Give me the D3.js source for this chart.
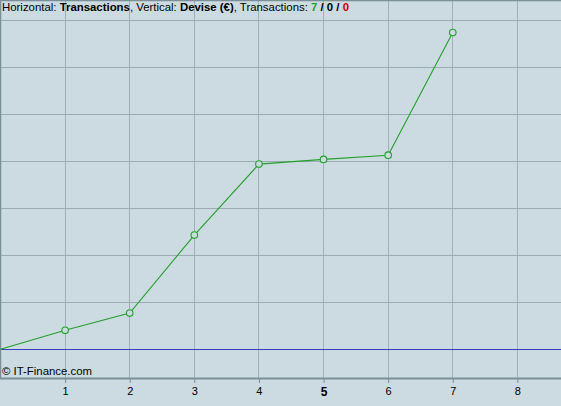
<!DOCTYPE html>
<html><head><meta charset="utf-8">
<script src="https://cdn.jsdelivr.net/npm/d3@7"></script>
<style>body{margin:0;background:#ccdbe1;}svg{display:block;}</style>
</head><body>
<svg id="c" width="561" height="406"></svg>
<script>
const transactions = [0, 1, 2, 3, 4, 5, 6, 7];
const devise = [0, 404, 770, 2430, 3940, 4040, 4130, 6740];
const xTicks = [1, 2, 3, 4, 5, 6, 7, 8];
const yGrid = [-1000, 1000, 2000, 3000, 4000, 5000, 6000, 7000];

const W = 561, H = 406;
const plot = {left: 0, top: 0, right: 561, bottom: 378};
const svg = d3.select("#c");
const x = d3.scaleLinear().domain([0, 8.683]).range([plot.left, plot.right]);
const y = d3.scaleLinear().domain([-611, 7432]).range([plot.bottom, plot.top]);

svg.append("rect").attr("width", W).attr("height", H).attr("fill", "#ccdbe1");

// vertical grid
svg.append("g").selectAll("line").data(xTicks).join("line")
  .attr("x1", d => Math.round(x(d)) + 0.5).attr("x2", d => Math.round(x(d)) + 0.5)
  .attr("y1", plot.top).attr("y2", plot.bottom)
  .attr("stroke", "#9fb0b8").attr("stroke-width", 1);
// horizontal grid
svg.append("g").selectAll("line").data(yGrid.filter(v => y(v) > plot.top && y(v) < plot.bottom)).join("line")
  .attr("x1", plot.left).attr("x2", plot.right)
  .attr("y1", d => Math.round(y(d)) + 0.5).attr("y2", d => Math.round(y(d)) + 0.5)
  .attr("stroke", "#9aabb3").attr("stroke-width", 1);

// zero line
svg.append("line").attr("x1", plot.left).attr("x2", plot.right)
  .attr("y1", Math.round(y(0)) + 0.5).attr("y2", Math.round(y(0)) + 0.5)
  .attr("stroke", "#3a3ac4").attr("stroke-width", 1);

// borders
svg.append("line").attr("x1", 0.5).attr("x2", 0.5).attr("y1", 0).attr("y2", plot.bottom)
  .attr("stroke", "#7b8f99").attr("stroke-width", 1.5);
svg.append("line").attr("x1", 0).attr("x2", W).attr("y1", 0.5).attr("y2", 0.5)
  .attr("stroke", "#7b8f99").attr("stroke-width", 1.5);

// x axis
const xAxis = d3.axisBottom(x).tickValues(xTicks).tickSize(5).tickPadding(3).tickFormat(d3.format("d"));
const gx = svg.append("g").attr("transform", `translate(0.5,${plot.bottom})`).call(xAxis);
gx.select(".domain").attr("stroke", "#7b8f99").attr("stroke-width", 2).attr("d", `M-0.5,0.5H${W}`);
gx.selectAll(".tick line").attr("stroke", "#7b8f99");
gx.selectAll(".tick text").attr("fill", "#000").style("font-family", "Liberation Sans, Arial, sans-serif")
  .attr("dy", "0.8em")
  .style("font-weight", d => d === 5 ? "bold" : "normal")
  .style("font-size", d => d === 5 ? "12px" : "11px");

// line
const pts = transactions.map((t, i) => [t, devise[i]]);
svg.append("path").datum(pts)
  .attr("d", d3.line().x(d => x(d[0]) + 0.5).y(d => y(d[1])))
  .attr("fill", "none").attr("stroke", "#22a02a").attr("stroke-width", 1.1);
svg.append("g").selectAll("circle").data(pts.slice(1)).join("circle")
  .attr("cx", d => x(d[0]) + 0.5).attr("cy", d => y(d[1])).attr("r", 3.3)
  .attr("fill", "#ccdbe1").attr("stroke", "#22a02a").attr("stroke-width", 1.1);

// title
const t = svg.append("text").attr("x", 2).attr("y", 11)
  .style("font-family", "Liberation Sans, Arial, sans-serif").style("font-size", "11.4px").attr("fill", "#000");
const parts = [
  ["Horizontal: ", "normal", "#000"], ["Transactions", "bold", "#000"],
  [", Vertical: ", "normal", "#000"], ["Devise (€)", "bold", "#000"],
  [", Transactions: ", "normal", "#000"], ["7", "bold", "#22a02a"], [" / ", "bold", "#000"],
  ["0", "bold", "#000"], [" / ", "bold", "#000"], ["0", "bold", "#cc0000"]
];
parts.forEach(p => t.append("tspan").text(p[0]).style("font-weight", p[1]).attr("fill", p[2]));

// copyright
svg.append("text").attr("x", 2).attr("y", 375).text("© IT-Finance.com")
  .style("font-family", "Liberation Sans, Arial, sans-serif").style("font-size", "11.4px").attr("fill", "#000");
</script>
</body></html>
